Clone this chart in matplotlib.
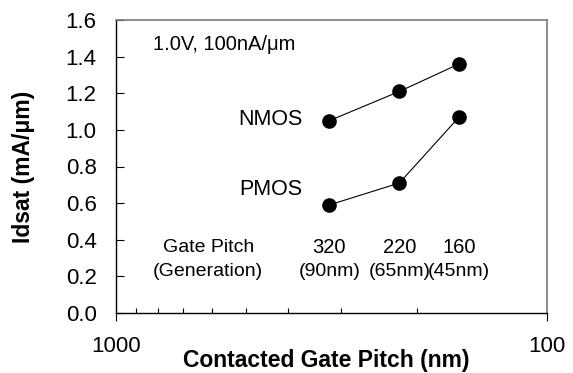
import matplotlib
matplotlib.use("Agg")
import matplotlib.pyplot as plt
from matplotlib.ticker import FixedLocator, NullFormatter

plt.rcParams['font.family'] = ['Liberation Sans', 'DejaVu Sans']

# gate pitch (nm) per generation
pitch = [320, 220, 160]
nmos = [1.05, 1.21, 1.36]
pmos = [0.59, 0.71, 1.07]
pitch_labels = ["320", "220", "160"]
gen_labels = ["(90nm)", "(65nm)", "(45nm)"]
y_ticks = [0.0, 0.2, 0.4, 0.6, 0.8, 1.0, 1.2, 1.4, 1.6]

fig = plt.figure(figsize=(5.73, 3.73), dpi=100)
ax = fig.add_axes([116 / 573, 60 / 373, 431 / 573, 293 / 373])

ax.plot(pitch, nmos, 'k-', lw=0.8, marker='o', ms=9.5)
ax.plot(pitch, pmos, 'k-', lw=0.8, marker='o', ms=9.5)

ax.set_xscale('log')
ax.set_xlim(1000, 100)
ax.set_ylim(0, 1.6)

ax.xaxis.set_major_locator(FixedLocator([1000, 100]))
ax.set_xticklabels(["1000", "100"])
ax.xaxis.set_minor_locator(FixedLocator([900, 800, 700, 600, 500, 400, 300, 200]))
ax.xaxis.set_minor_formatter(NullFormatter())
ax.tick_params(axis='x', which='major', direction='out', length=5.5, width=0.8,
               pad=11, labelsize=16)
ax.tick_params(axis='x', which='minor', direction='in', length=3.5, width=0.8)

ax.set_yticks(y_ticks)
ax.set_yticklabels([f"{v:.1f}" for v in y_ticks])
ax.tick_params(axis='y', direction='in', length=6, width=0.8, pad=14, labelsize=16)

for side in ['left', 'bottom']:
    ax.spines[side].set_color('black')
    ax.spines[side].set_linewidth(1.0)
for side in ['top', 'right']:
    ax.spines[side].set_color('#7a7a7a')
    ax.spines[side].set_linewidth(1.2)

ax.set_xlabel("Contacted Gate Pitch (nm)", fontsize=16.5, fontweight='bold')
ax.xaxis.set_label_coords(0.487, -0.123)
ax.set_ylabel("Idsat (mA/\u03bcm)", fontsize=16.5, fontweight='bold')
ax.yaxis.set_label_coords(-0.188, 0.5)

# annotations
ax.text(0.086, 0.915, "1.0V, 100nA/\u03bcm", transform=ax.transAxes,
        fontsize=14.5, ha='left', va='center')
ax.text(0.432, 0.662, "NMOS", transform=ax.transAxes, fontsize=15.5,
        ha='right', va='center')
ax.text(0.432, 0.42, "PMOS", transform=ax.transAxes, fontsize=15.5,
        ha='right', va='center')
ax.text(0.214, 0.225, "Gate Pitch", transform=ax.transAxes, fontsize=14,
        ha='center', va='center')
ax.text(0.214, 0.143, "(Generation)", transform=ax.transAxes, fontsize=14,
        ha='center', va='center')
for p, lab, gen in zip(pitch, pitch_labels, gen_labels):
    ax.text(p, 0.225 * 1.6, lab, fontsize=14.5, ha='center', va='center')
    ax.text(p, 0.143 * 1.6, gen, fontsize=14, ha='center', va='center')

fig.savefig("out.png", dpi=100)
